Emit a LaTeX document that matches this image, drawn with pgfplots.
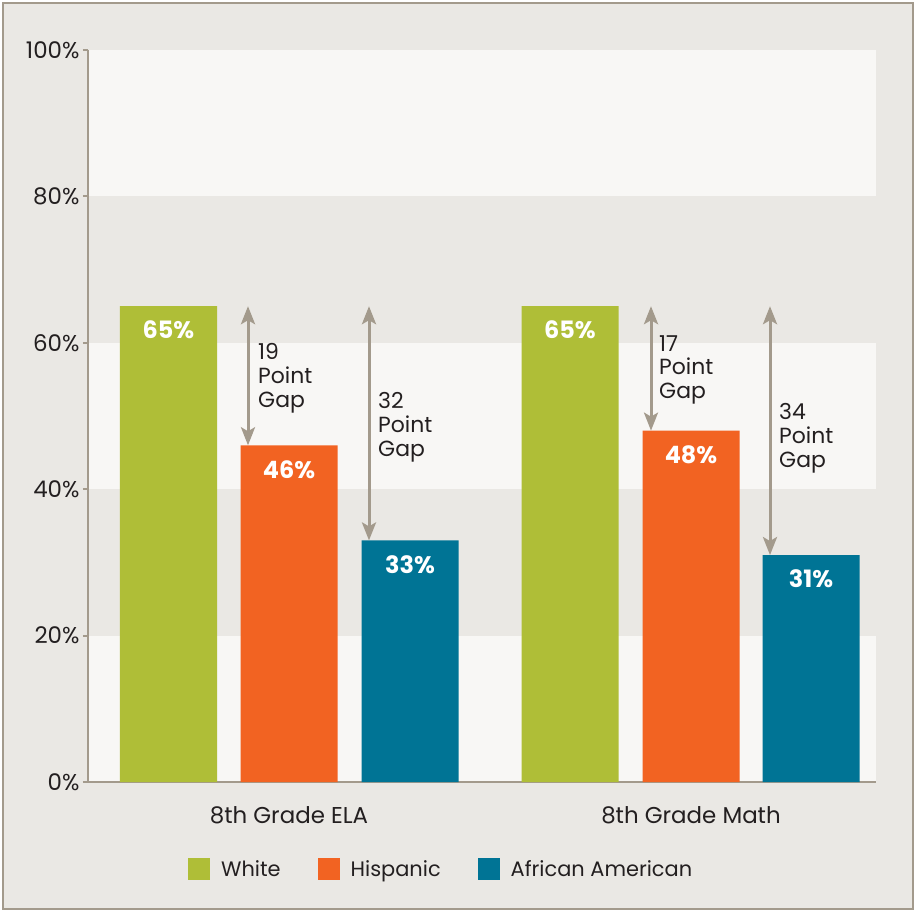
\documentclass[border=0pt]{standalone}
\usepackage{pgfplots}
\pgfplotsset{compat=1.18}
\usetikzlibrary{arrows.meta}
\usepackage{fontspec}
\setmainfont{Poppins}
\definecolor{bg}{HTML}{EAE8E4}
\definecolor{band}{HTML}{F8F7F5}
\definecolor{frame}{HTML}{A39A8C}
\definecolor{cwhite}{HTML}{AFBE37}
\definecolor{chisp}{HTML}{F26322}
\definecolor{caa}{HTML}{007495}
\definecolor{txt}{HTML}{231F20}
\begin{document}
\begin{tikzpicture}
\fill[white] (-88bp,-130bp) rectangle (830bp,782bp);
\fill[bg, draw=frame, line width=2bp] (-85bp,-127bp) rectangle (825bp,779bp);
\fill[band] (0bp,0bp) rectangle (788bp,146.4bp);
\fill[band] (0bp,292.8bp) rectangle (788bp,439.2bp);
\fill[band] (0bp,585.6bp) rectangle (788bp,732bp);
\begin{axis}[
  at={(0bp,0bp)}, anchor=south west,
  scale only axis, width=788bp, height=732bp,
  xmin=0, xmax=788, ymin=0, ymax=100,
  axis x line*=bottom, axis y line*=left,
  axis line style={frame, line width=2.5bp},
  ytick={0,20,40,60,80,100},
  yticklabel={\pgfmathprintnumber{\tick}\%},
  /pgf/number format/assume math mode=true,
  tick align=outside,
  major tick length=5bp,
  ytick style={frame, line width=2bp},
  xtick={201,603},
  xticklabels={8th Grade ELA, 8th Grade Math},
  xtick style={draw=none},
  xticklabel style={yshift=-16bp},
  tick label style={font=\fontsize{23}{27}\selectfont, text=txt},
  ybar, bar width=97, bar shift=0pt,
  nodes near coords={\pgfmathprintnumber{\pgfplotspointmeta}\%},
  every node near coord/.append style={font=\bfseries\fontsize{24}{28}\selectfont, text=white, anchor=center, yshift=-24bp},
  legend image code/.code={\fill[#1] (0bp,-11bp) rectangle (22bp,11bp); \path (31bp,0bp);},
  legend style={draw=none, fill=none, at={(0.123,-0.1189)}, anchor=west,
    legend columns=-1, font=\fontsize{21}{25}\selectfont, text=txt,
    /tikz/every even column/.append style={column sep=35bp}},
]
\addplot[fill=cwhite, draw=none] coordinates {(80.5,65) (482,65)};
\addplot[fill=chisp, draw=none] coordinates {(201,46) (603,48)};
\addplot[fill=caa, draw=none] coordinates {(322,33) (723,31)};
\legend{White, Hispanic, African American}
\draw[frame, line width=3bp, {Stealth[length=18bp,width=14bp,inset=4bp]}-{Stealth[length=18bp,width=14bp,inset=4bp]}] (axis cs:160,65) -- (axis cs:160,46);
\draw[frame, line width=3bp, {Stealth[length=18bp,width=14bp,inset=4bp]}-{Stealth[length=18bp,width=14bp,inset=4bp]}] (axis cs:281,65) -- (axis cs:281,33);
\draw[frame, line width=3bp, {Stealth[length=18bp,width=14bp,inset=4bp]}-{Stealth[length=18bp,width=14bp,inset=4bp]}] (axis cs:563,65) -- (axis cs:563,48);
\draw[frame, line width=3bp, {Stealth[length=18bp,width=14bp,inset=4bp]}-{Stealth[length=18bp,width=14bp,inset=4bp]}] (axis cs:682,65) -- (axis cs:682,31);
\node[anchor=west, align=left, inner sep=0pt, font=\fontsize{22}{24}\selectfont, text=txt] at (axis cs:170,55.2) {19\\Point\\Gap};
\node[anchor=west, align=left, inner sep=0pt, font=\fontsize{22}{24}\selectfont, text=txt] at (axis cs:290,48.5) {32\\Point\\Gap};
\node[anchor=west, align=left, inner sep=0pt, font=\fontsize{22}{24}\selectfont, text=txt] at (axis cs:571,56.3) {17\\Point\\Gap};
\node[anchor=west, align=left, inner sep=0pt, font=\fontsize{22}{24}\selectfont, text=txt] at (axis cs:691,47.0) {34\\Point\\Gap};
\end{axis}
\end{tikzpicture}
\end{document}
